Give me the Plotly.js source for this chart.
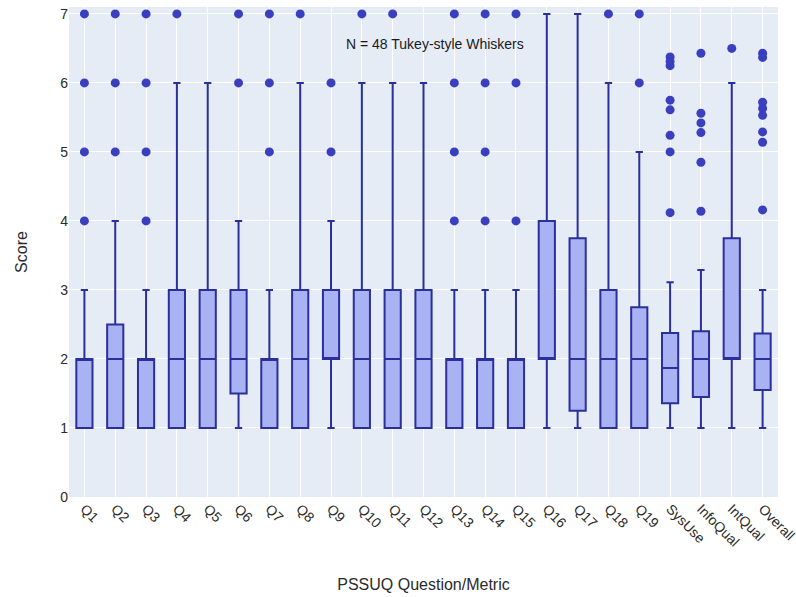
<!DOCTYPE html>
<html>
<head>
<meta charset="utf-8">
<script src="https://cdn.plot.ly/plotly-3.0.1.min.js"></script>
<style>html,body{margin:0;padding:0;background:#fff;}#chart{width:796px;height:597px;}</style>
</head>
<body>
<div id="chart"></div>
<script>
var categories = ["Q1","Q2","Q3","Q4","Q5","Q6","Q7","Q8","Q9","Q10","Q11","Q12","Q13","Q14","Q15","Q16","Q17","Q18","Q19","SysUse","InfoQual","IntQual","Overall"];
var lowerFence = [1,1,1,1,1,1,1,1,1,1,1,1,1,1,1,1,1,1,1,1,1,1,1];
var q1Vals     = [1,1,1,1,1,1.5,1,1,2,1,1,1,1,1,1,2,1.25,1,1,1.36,1.45,2,1.55];
var medianVals = [2,2,2,2,2,2,2,2,2,2,2,2,2,2,2,2,2,2,2,1.87,2,2,2];
var q3Vals     = [2,2.5,2,3,3,3,2,3,3,3,3,3,2,2,2,4,3.75,3,2.75,2.375,2.4,3.75,2.37];
var upperFence = [3,4,3,6,6,4,3,6,4,6,6,6,3,3,3,7,7,6,5,3.11,3.29,6,3];
var outliers = [
  [4,5,6,7],
  [5,6,7],
  [4,5,6,7],
  [7],
  [],
  [6,7],
  [5,6,7],
  [7],
  [5,6],
  [7],
  [7],
  [],
  [4,5,6,7],
  [4,5,6,7],
  [4,6,7],
  [],
  [],
  [7],
  [6,7],
  [4.12,5.0,5.24,5.61,5.75,6.25,6.31,6.375],
  [4.14,4.85,5.28,5.42,5.56,6.43],
  [6.5],
  [4.16,5.14,5.29,5.53,5.63,5.72,6.37,6.43]
];
var yTicks = [0,1,2,3,4,5,6,7];

var outX = [], outY = [];
categories.forEach(function(c, i){
  outliers[i].forEach(function(v){ outX.push(c); outY.push(v); });
});

var lineColor = '#2a2f9c';
var fillColor = '#a9b3f3';
var dotColor = '#3a3fbf';

var data = [
  {
    type: 'box',
    x: categories,
    q1: q1Vals,
    median: medianVals,
    q3: q3Vals,
    lowerfence: lowerFence,
    upperfence: upperFence,
    boxpoints: false,
    fillcolor: fillColor,
    line: {color: lineColor, width: 2},
    whiskerwidth: 0.45,
    showlegend: false,
    hoverinfo: 'skip'
  },
  {
    type: 'scatter',
    mode: 'markers',
    x: outX,
    y: outY,
    marker: {color: dotColor, size: 9},
    showlegend: false,
    hoverinfo: 'skip'
  }
];

var layout = {
  width: 796,
  height: 597,
  margin: {l: 69, r: 18, t: 7, b: 100},
  paper_bgcolor: '#ffffff',
  plot_bgcolor: '#e5ecf6',
  font: {family: 'Liberation Sans, Arial, sans-serif', size: 14, color: '#2b2b2b'},
  boxgap: 0.25,
  boxgroupgap: 0.3,
  xaxis: {
    type: 'category',
    categoryorder: 'array',
    categoryarray: categories,
    range: [-0.5, 22.5],
    tickangle: 45,
    gridcolor: '#ffffff',
    showgrid: true,
    tickfont: {size: 14},
    title: {text: 'PSSUQ Question/Metric', font: {size: 16}, standoff: 30}
  },
  yaxis: {
    range: [0, 7.1],
    tickvals: yTicks,
    gridcolor: '#ffffff',
    zerolinecolor: '#ffffff',
    tickfont: {size: 14},
    title: {text: 'Score', font: {size: 16}}
  },
  annotations: [{
    xref: 'paper', yref: 'paper',
    x: 0.516, y: 0.925,
    xanchor: 'center', yanchor: 'middle',
    text: 'N = 48 Tukey-style Whiskers',
    showarrow: false,
    font: {size: 14, color: '#1a1a1a'}
  }]
};

Plotly.newPlot('chart', data, layout, {displayModeBar: false, staticPlot: true});
</script>
</body>
</html>
